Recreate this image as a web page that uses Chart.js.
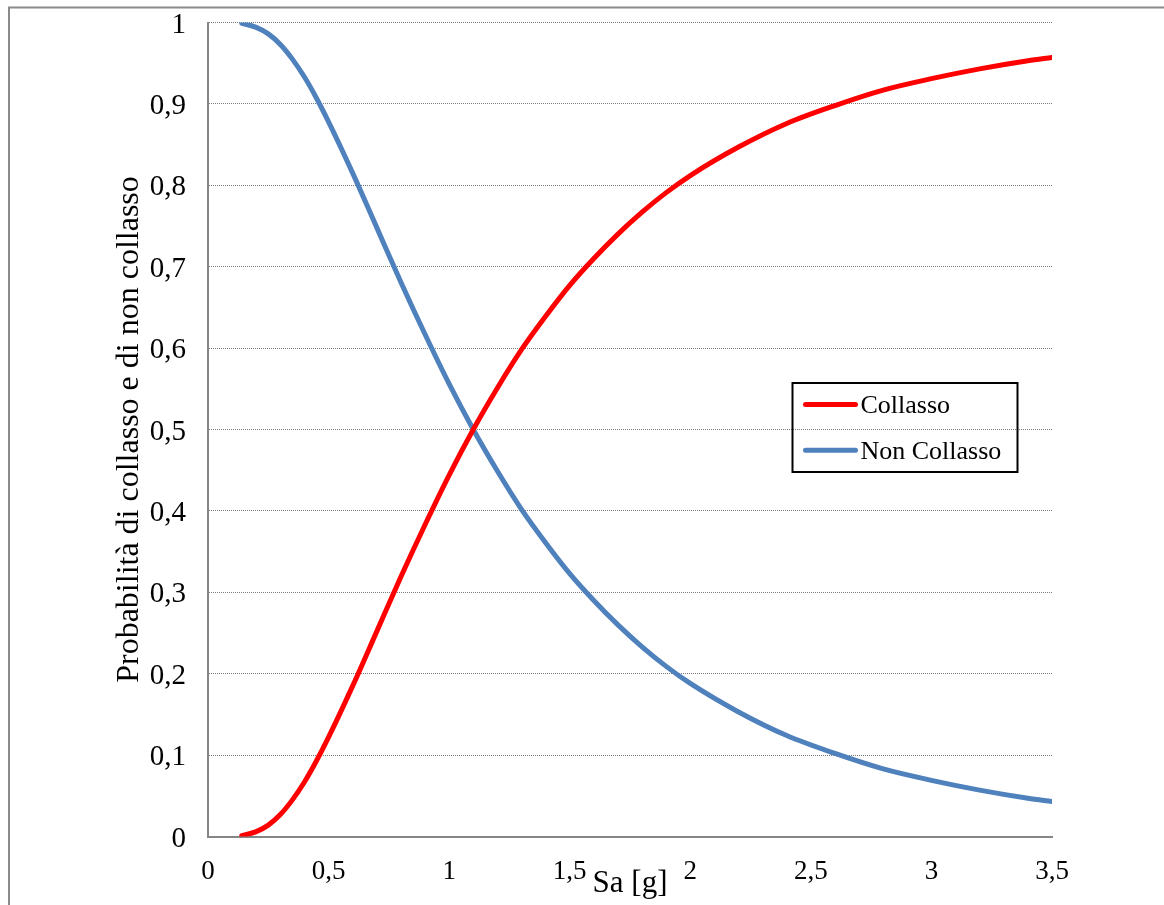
<!DOCTYPE html>
<html>
<head>
<meta charset="utf-8">
<script src="https://cdn.jsdelivr.net/npm/chart.js@4.4.1/dist/chart.umd.min.js"></script>
<style>
  html, body { margin: 0; padding: 0; background: #fff; }
  canvas { display: block; }
</style>
</head>
<body>
<canvas id="c" width="1164" height="905"></canvas>
<script>
// Spectral acceleration Sa [g]
const sa = [0.14, 0.2, 0.25, 0.3, 0.35, 0.4, 0.45, 0.5, 0.6, 0.7, 0.8, 0.9, 1.0, 1.1, 1.2, 1.3, 1.4, 1.5, 1.6, 1.7, 1.8, 1.9, 2.0, 2.2, 2.4, 2.6, 2.8, 3.0, 3.2, 3.4, 3.5];
// Probability of collapse
const collasso = [0.001, 0.006, 0.014, 0.027, 0.045, 0.067, 0.093, 0.122, 0.185, 0.252, 0.319, 0.383, 0.444, 0.500, 0.551, 0.598, 0.639, 0.677, 0.710, 0.740, 0.767, 0.791, 0.812, 0.847, 0.876, 0.898, 0.917, 0.931, 0.943, 0.953, 0.957];
// Probability of non-collapse
const nonCollasso = [0.999, 0.994, 0.986, 0.973, 0.955, 0.933, 0.907, 0.878, 0.815, 0.748, 0.681, 0.617, 0.556, 0.500, 0.449, 0.402, 0.361, 0.323, 0.290, 0.260, 0.233, 0.209, 0.188, 0.153, 0.124, 0.102, 0.083, 0.069, 0.057, 0.047, 0.043];

const seriesNames = ['Collasso', 'Non Collasso'];
const xTickLabels = ['0', '0,5', '1', '1,5', '2', '2,5', '3', '3,5'];
const yTickLabels = ['0', '0,1', '0,2', '0,3', '0,4', '0,5', '0,6', '0,7', '0,8', '0,9', '1'];
const xTitle = 'Sa [g]';
const yTitle = 'Probabilità di collasso e di non collasso';

const serif = "'Liberation Serif', 'Times New Roman', serif";

const toPoints = (ys) => sa.map((x, i) => ({ x: x, y: ys[i] }));

// White page with the grey outer frame
const framePlugin = {
  id: 'frame',
  beforeDraw(chart) {
    const ctx = chart.ctx;
    ctx.save();
    ctx.fillStyle = '#fff';
    ctx.fillRect(0, 0, chart.width, chart.height);
    ctx.strokeStyle = '#8a8a8a';
    ctx.lineWidth = 2;
    ctx.strokeRect(9, 7.5, chart.width + 40, chart.height + 40);
    ctx.restore();
  }
};

// Boxed legend drawn inside the plot area
const boxLegendPlugin = {
  id: 'boxLegend',
  afterDraw(chart) {
    const a = chart.chartArea;
    const ctx = chart.ctx;
    const x0 = a.left + 584.5;
    const y0 = a.top + 360.5;
    const w = 225, h = 89;
    ctx.save();
    ctx.strokeStyle = '#000';
    ctx.lineWidth = 2;
    ctx.strokeRect(x0, y0, w, h);
    chart.data.datasets.forEach((ds, i) => {
      const y = y0 + 21.5 + i * 45.7;
      ctx.strokeStyle = ds.borderColor;
      ctx.lineWidth = 5;
      ctx.lineCap = 'round';
      ctx.beginPath();
      ctx.moveTo(x0 + 13, y);
      ctx.lineTo(x0 + 63, y);
      ctx.stroke();
      ctx.fillStyle = '#000';
      ctx.font = '26px ' + serif;
      ctx.textBaseline = 'middle';
      ctx.textAlign = 'left';
      ctx.fillText(ds.label, x0 + 68, y + 2);
    });
    ctx.restore();
  }
};

new Chart(document.getElementById('c'), {
  type: 'line',
  data: {
    datasets: [
      {
        label: seriesNames[0],
        data: toPoints(collasso),
        borderColor: '#ff0000',
        borderWidth: 5,
        borderCapStyle: 'round',
        borderJoinStyle: 'round',
        pointRadius: 0,
        fill: false,
        cubicInterpolationMode: 'monotone'
      },
      {
        label: seriesNames[1],
        data: toPoints(nonCollasso),
        borderColor: '#4f81bd',
        borderWidth: 5,
        borderCapStyle: 'round',
        borderJoinStyle: 'round',
        pointRadius: 0,
        fill: false,
        cubicInterpolationMode: 'monotone'
      }
    ]
  },
  options: {
    responsive: false,
    animation: false,
    devicePixelRatio: 1,
    layout: { padding: { top: 22.5, right: 112, bottom: 0, left: 0 } },
    plugins: {
      legend: { display: false },
      tooltip: { enabled: false }
    },
    scales: {
      x: {
        type: 'linear',
        min: 0,
        max: 3.5,
        ticks: {
          stepSize: 0.5,
          padding: 19,
          color: '#000',
          maxRotation: 0,
          autoSkip: false,
          font: { family: serif, size: 27 },
          callback: (v) => xTickLabels[Math.round(v * 2)]
        },
        grid: { display: false, drawTicks: false },
        border: { display: true, color: '#868686', width: 2 },
        title: {
          display: true,
          text: xTitle,
          color: '#000',
          font: { family: serif, size: 31 },
          padding: { top: 0, bottom: 3 }
        },
        afterFit(scale) {
          scale.height = 68.5;
          scale.paddingLeft = 0;
          scale.paddingRight = 0;
        }
      },
      y: {
        type: 'linear',
        min: 0,
        max: 1,
        ticks: {
          stepSize: 0.1,
          padding: 22,
          labelOffset: 2.5,
          color: '#000',
          font: { family: serif, size: 29 },
          callback: (v) => yTickLabels[Math.round(v * 10)]
        },
        grid: { color: '#7a7a7a', lineWidth: 1, drawTicks: false },
        border: { display: true, color: '#868686', width: 2, dash: [1, 1] },
        title: {
          display: true,
          text: yTitle,
          color: '#000',
          font: { family: serif, size: 32 },
          padding: { top: 110, bottom: 0 }
        },
        afterFit(scale) {
          scale.width = 208;
          scale.paddingTop = 0;
          scale.paddingBottom = 0;
        }
      }
    }
  },
  plugins: [framePlugin, boxLegendPlugin]
});
</script>
</body>
</html>
